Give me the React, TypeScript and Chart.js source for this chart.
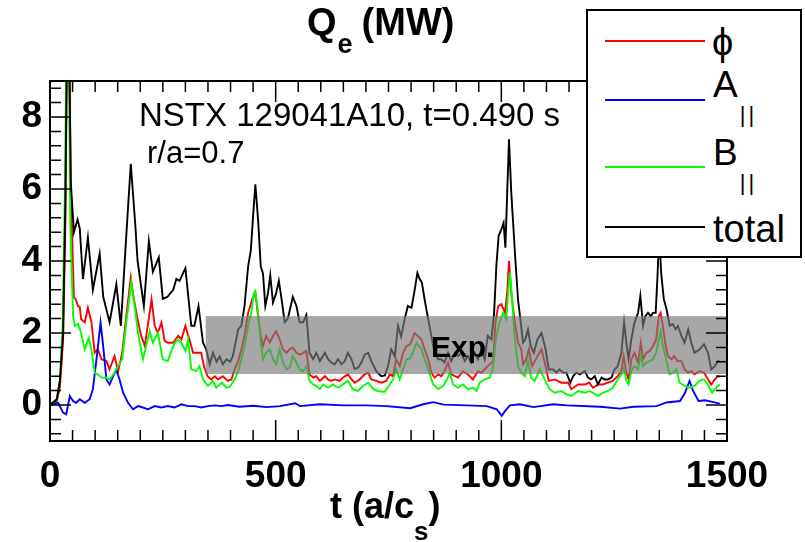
import React, { useEffect, useRef } from "react";
import { Chart, registerables } from "chart.js";

Chart.register(...registerables);

const FONT = "'Liberation Sans', Arial, Helvetica, sans-serif";
const W = 805;
const H = 542;

// axis ranges and tick labels
const xRange = [0, 1500];
const yRange = [-1, 9];
const xTickValues = [0, 500, 1000, 1500];
const yTickValues = [0, 2, 4, 6, 8];

// experimental band (t from, t to, Q low, Q high)
const expBand = [345, 1500, 0.86, 2.47];

// Q_e total  [t (a/cs), Q (MW)]
const totalSeries: [number, number][] = [
  [0, 0], [15, 0.16], [22, 0.67], [29, 2.0], [34, 5.6], [40, 13], [46, 6.2], [53, 4.8], [61, 5.15], [66, 4.9],
  [73, 3.5], [84, 4.65], [95, 3.2], [110, 4.2], [118, 3.0], [132, 2.3], [147, 3.35], [157, 2.2], [168, 4.5], [179, 6.7],
  [189, 5.0], [194, 4.0], [208, 2.75], [219, 4.55], [228, 3.7], [241, 4.1], [250, 2.95], [260, 3.0], [273, 3.2], [280, 3.5],
  [287, 3.45], [300, 3.8], [313, 2.2], [320, 2.2], [329, 2.75], [339, 1.73], [346, 1.55], [354, 1.13], [361, 1.45], [369, 1.2],
  [376, 1.35], [383, 1.13], [391, 1.27], [399, 1.2], [405, 1.35], [417, 2.1], [424, 2.2], [431, 2.75], [439, 3.85], [445, 4.3],
  [450, 5.25], [455, 6.13], [461, 5.15], [467, 3.85], [472, 3.65], [477, 2.75], [483, 3.1], [488, 3.6], [494, 2.85], [501, 3.1],
  [507, 3.45], [513, 2.95], [520, 2.3], [527, 2.4], [538, 3.0], [546, 2.75], [553, 2.3], [561, 2.3], [568, 2.5], [575, 1.45],
  [583, 1.27], [590, 1.45], [598, 1.22], [609, 1.45], [616, 1.27], [623, 1.18], [631, 1.13], [638, 1.27], [646, 1.13], [653, 1.22],
  [660, 1.45], [668, 1.27], [675, 1.0], [683, 1.04], [690, 1.18], [697, 1.4], [705, 1.45], [712, 1.22], [723, 0.94], [734, 0.8],
  [742, 0.82], [749, 1.08], [756, 1.55], [764, 1.35], [771, 2.2], [778, 1.9], [786, 2.4], [793, 2.75], [801, 2.7], [808, 3.2],
  [814, 3.67], [819, 3.5], [824, 3.4], [830, 2.93], [838, 2.38], [845, 1.92], [852, 1.45], [860, 1.27], [867, 1.27], [874, 1.18],
  [882, 1.45], [889, 1.22], [897, 1.45], [904, 1.36], [911, 1.45], [919, 1.22], [926, 1.36], [934, 1.18], [941, 1.45], [948, 1.27],
  [956, 1.55], [963, 1.27], [970, 1.92], [978, 1.82], [984, 2.56], [989, 3.86], [994, 4.7], [1000, 4.88], [1005, 5.06], [1009, 4.37],
  [1013, 5.9], [1017, 7.38], [1022, 5.9], [1027, 4.88], [1031, 4.05], [1037, 2.93], [1043, 2.29], [1048, 1.73], [1053, 1.82], [1059, 2.1],
  [1065, 1.64], [1072, 1.45], [1080, 1.82], [1089, 2.0], [1098, 1.55], [1105, 0.99], [1115, 0.99], [1122, 0.9], [1129, 0.99], [1137, 0.9],
  [1144, 0.9], [1153, 0.62], [1159, 0.8], [1166, 0.9], [1174, 0.85], [1185, 0.94], [1192, 0.76], [1199, 0.71], [1207, 0.8], [1214, 0.57],
  [1222, 0.76], [1229, 0.71], [1236, 0.71], [1244, 0.76], [1251, 0.99], [1258, 1.08], [1266, 1.45], [1272, 2.29], [1277, 1.73], [1282, 1.27],
  [1288, 1.82], [1295, 2.29], [1303, 2.56], [1308, 3.03], [1314, 2.2], [1319, 2.47], [1325, 2.56], [1331, 2.47], [1336, 2.56], [1342, 2.56],
  [1346, 3.58], [1350, 4.8], [1354, 3.68], [1360, 2.94], [1366, 2.66], [1373, 2.2], [1380, 2.25], [1386, 2.1], [1391, 2.2], [1399, 1.92],
  [1406, 1.73], [1414, 2.1], [1421, 1.73], [1428, 1.45], [1439, 1.54], [1449, 1.69], [1458, 1.45], [1465, 0.99], [1473, 1.08], [1480, 1.22],
  [1484, 1.22],
];

// Q_e from phi (electrostatic)
const phiSeries: [number, number][] = [
  [0, 0], [15, 0.1], [22, 0.5], [29, 1.8], [34, 5], [40, 13], [46, 6], [53, 3.0], [57, 2.93], [62, 2.75],
  [66, 2.72], [69, 2.38], [77, 2.3], [84, 2.7], [92, 2.29], [99, 1.45], [106, 1.55], [114, 1.27], [125, 1.22], [132, 0.99],
  [143, 1.36], [151, 0.94], [160, 1.45], [169, 2.47], [179, 3.54], [186, 2.93], [194, 2.38], [202, 1.92], [210, 1.64], [217, 2.24],
  [225, 2.93], [232, 2.2], [239, 2.0], [247, 2.29], [254, 1.78], [261, 1.73], [273, 1.73], [284, 1.92], [291, 1.82], [300, 2.2],
  [309, 1.82], [317, 1.45], [328, 1.45], [335, 1.45], [341, 1.08], [349, 0.8], [357, 0.71], [365, 0.8], [372, 0.71], [383, 0.8],
  [394, 0.67], [402, 0.71], [409, 0.99], [417, 1.22], [424, 1.55], [431, 1.92], [439, 2.56], [448, 2.93], [455, 3.12], [461, 2.47],
  [467, 1.92], [472, 1.64], [479, 1.92], [487, 1.73], [494, 1.92], [501, 2.05], [509, 1.82], [516, 1.55], [524, 1.45], [531, 1.55],
  [538, 1.6], [546, 1.45], [553, 1.4], [561, 1.45], [568, 1.5], [575, 0.85], [583, 0.76], [590, 0.8], [598, 0.67], [609, 0.8],
  [616, 0.71], [623, 0.67], [631, 0.71], [642, 0.67], [649, 0.76], [660, 0.85], [668, 0.71], [675, 0.62], [686, 0.71], [697, 0.85],
  [705, 0.9], [712, 0.71], [723, 0.67], [734, 0.62], [745, 0.67], [753, 0.85], [760, 0.8], [767, 1.27], [775, 1.08], [782, 1.45],
  [790, 1.64], [798, 1.69], [808, 2.0], [815, 1.92], [823, 1.82], [830, 1.55], [838, 1.27], [845, 0.9], [852, 0.76], [860, 0.85],
  [867, 0.8], [874, 0.94], [882, 1.18], [889, 0.85], [904, 0.76], [915, 0.94], [926, 0.85], [937, 0.71], [948, 0.94], [956, 0.9],
  [970, 1.08], [982, 1.22], [987, 2.29], [993, 2.75], [1000, 2.8], [1008, 2.56], [1013, 3.12], [1017, 4.0], [1022, 3.12], [1029, 2.38],
  [1037, 1.73], [1044, 1.55], [1048, 1.13], [1055, 1.27], [1061, 1.55], [1068, 1.08], [1078, 1.31], [1089, 1.55], [1098, 1.08], [1105, 0.67],
  [1118, 0.71], [1133, 0.62], [1148, 0.62], [1155, 0.44], [1170, 0.57], [1185, 0.57], [1195, 0.62], [1203, 0.48], [1214, 0.57], [1225, 0.57],
  [1236, 0.62], [1247, 0.67], [1258, 0.8], [1266, 0.94], [1271, 1.36], [1277, 0.9], [1282, 0.71], [1288, 1.27], [1295, 1.45], [1303, 1.18],
  [1309, 1.73], [1314, 1.27], [1321, 1.45], [1329, 1.5], [1336, 1.64], [1343, 1.82], [1349, 2.47], [1353, 2.56], [1358, 2.2], [1363, 1.73],
  [1369, 1.36], [1377, 1.27], [1383, 1.36], [1390, 1.22], [1399, 1.22], [1406, 0.99], [1414, 0.9], [1421, 0.94], [1428, 0.85], [1439, 0.94],
  [1449, 0.9], [1458, 0.71], [1465, 0.57], [1473, 0.71], [1480, 0.8], [1484, 0.78],
];

// Q_e from A_parallel
const aparSeries: [number, number][] = [
  [0, 0], [18, 0.06], [29, -0.21], [36, -0.26], [44, 0.25], [51, 0.11], [58, 0.06], [66, 0.16], [77, 0.06], [88, 0.16],
  [95, 0.44], [103, 1.27], [112, 2.29], [117, 1.73], [125, 0.71], [132, 0.57], [140, 0.8], [147, 0.99], [154, 0.71], [162, 0.34],
  [173, 0.06], [184, -0.12], [195, -0.03], [206, -0.07], [217, -0.12], [232, -0.03], [247, -0.07], [261, -0.03], [276, -0.07], [291, 0.02],
  [306, -0.03], [321, -0.03], [335, -0.07], [350, -0.03], [365, -0.01], [380, -0.03], [394, 0], [420, -0.05], [450, -0.02], [480, -0.06],
  [510, -0.03], [543, 0.05], [554, -0.03], [598, 0.02], [650, -0.01], [702, -0.01], [746, -0.03], [798, -0.09], [827, 0.02], [849, 0.08],
  [872, 0.01], [923, -0.01], [968, -0.03], [990, -0.12], [1001, -0.3], [1008, -0.17], [1019, -0.01], [1041, 0.02], [1071, -0.06], [1115, 0.02],
  [1145, -0.01], [1219, -0.05], [1263, -0.1], [1293, -0.05], [1344, -0.03], [1366, 0.07], [1396, 0.11], [1407, 0.34], [1417, 0.67], [1425, 0.39],
  [1437, 0.11], [1451, 0.13], [1470, 0.08], [1484, 0.04],
];

// Q_e from B_parallel
const bparSeries: [number, number][] = [
  [0, 0], [15, 0.15], [22, 0.7], [28, 2.2], [33, 6], [39, 13], [45, 5], [51, 2.5], [55, 2.2], [62, 2.25],
  [69, 2.0], [77, 1.55], [86, 1.87], [93, 1.45], [99, 0.9], [106, 0.85], [114, 0.76], [125, 0.76], [132, 0.71], [143, 0.9],
  [151, 1.08], [160, 1.27], [169, 2.28], [180, 3.4], [188, 2.7], [195, 2.0], [206, 1.27], [213, 1.64], [221, 2.05], [228, 1.73],
  [239, 2.0], [250, 1.27], [261, 1.22], [273, 1.64], [282, 1.82], [291, 1.73], [300, 1.5], [306, 1.82], [313, 0.99], [324, 0.94],
  [331, 1.08], [339, 0.71], [350, 0.53], [361, 0.67], [368, 0.48], [380, 0.62], [391, 0.48], [398, 0.5], [409, 0.71], [417, 0.94],
  [424, 1.27], [431, 1.64], [439, 2.2], [446, 2.56], [452, 3.12], [455, 3.17], [461, 2.56], [467, 1.73], [472, 1.27], [479, 1.45],
  [487, 1.55], [494, 1.27], [501, 1.13], [509, 1.55], [516, 1.18], [524, 0.99], [531, 1.04], [538, 1.36], [546, 1.18], [553, 0.99],
  [561, 0.94], [568, 1.08], [575, 0.67], [583, 0.57], [590, 0.53], [598, 0.44], [605, 0.57], [616, 0.48], [627, 0.57], [638, 0.48],
  [649, 0.57], [660, 0.67], [671, 0.44], [683, 0.39], [693, 0.53], [705, 0.62], [716, 0.44], [727, 0.39], [741, 0.36], [753, 0.57],
  [760, 0.71], [767, 0.99], [775, 0.71], [782, 0.99], [790, 1.27], [798, 1.3], [804, 1.45], [812, 1.73], [823, 1.55], [830, 1.27],
  [838, 0.99], [849, 0.57], [860, 0.44], [871, 0.53], [878, 0.67], [886, 0.9], [893, 0.57], [904, 0.48], [915, 0.57], [926, 0.44],
  [937, 0.48], [945, 0.39], [952, 0.62], [963, 0.71], [974, 0.76], [981, 0.99], [989, 1.92], [996, 2.29], [1004, 2.56], [1011, 2.38],
  [1015, 3.12], [1019, 3.68], [1024, 2.94], [1029, 1.92], [1037, 1.08], [1044, 0.9], [1052, 0.8], [1059, 1.27], [1066, 0.76], [1074, 0.67],
  [1085, 0.99], [1096, 0.71], [1107, 0.44], [1118, 0.34], [1133, 0.39], [1144, 0.3], [1155, 0.25], [1170, 0.39], [1185, 0.34], [1195, 0.39],
  [1203, 0.34], [1214, 0.25], [1225, 0.34], [1236, 0.39], [1247, 0.48], [1258, 0.71], [1266, 0.85], [1272, 1.04], [1277, 0.67], [1282, 0.57],
  [1288, 0.94], [1295, 1.08], [1303, 0.99], [1309, 1.4], [1314, 1.08], [1321, 1.18], [1329, 1.22], [1336, 1.27], [1343, 1.45], [1349, 1.82],
  [1353, 2.05], [1358, 1.64], [1366, 1.22], [1373, 0.85], [1380, 0.9], [1388, 0.99], [1395, 0.62], [1406, 0.53], [1417, 0.48], [1428, 0.53],
  [1439, 0.67], [1449, 0.71], [1458, 0.57], [1467, 0.34], [1476, 0.48], [1484, 0.57],
];

const toPoints = (s: [number, number][]) => s.map(([x, y]) => ({ x, y }));

const framePlugin = {
  id: "frameAndBand",
  afterDatasetsDraw(chart: any) {
    const { ctx, chartArea: a, scales } = chart;
    const xs = scales.x;
    const ys = scales.y;
    ctx.save();
    // experimental band, drawn over the curves
    const bx0 = xs.getPixelForValue(expBand[0]);
    const bx1 = xs.getPixelForValue(expBand[1]);
    const byTop = ys.getPixelForValue(expBand[3]);
    const byBot = ys.getPixelForValue(expBand[2]);
    ctx.fillStyle = "rgba(122,122,122,0.66)";
    ctx.fillRect(bx0, byTop, bx1 - bx0, byBot - byTop);

    // inward ticks on all four sides
    ctx.strokeStyle = "#000";
    ctx.lineWidth = 1.5;
    ctx.beginPath();
    for (let k = 1; k < 30; k++) {
      const v = k * 50;
      const px = xs.getPixelForValue(v);
      const len = k % 10 === 0 ? 21 : 11;
      ctx.moveTo(px, a.bottom);
      ctx.lineTo(px, a.bottom - len);
      ctx.moveTo(px, a.top);
      ctx.lineTo(px, a.top + len);
    }
    for (let k = -2; k <= 22; k++) {
      const v = k * 0.4;
      const py = ys.getPixelForValue(v);
      const len = k % 5 === 0 ? 21 : 11;
      ctx.moveTo(a.left, py);
      ctx.lineTo(a.left + len, py);
      ctx.moveTo(a.right, py);
      ctx.lineTo(a.right - len, py);
    }
    ctx.stroke();
    ctx.lineWidth = 2;
    ctx.strokeRect(a.left, a.top, a.right - a.left, a.bottom - a.top);
    ctx.restore();
  },
};

function Label(props: { x: number; base: number; size: number; weight?: number; children: React.ReactNode }) {
  const { x, base, size, weight = 400, children } = props;
  return (
    <div
      style={{
        position: "absolute",
        left: x,
        top: base - 0.8465 * size,
        fontSize: size,
        fontWeight: weight,
        lineHeight: 1,
        whiteSpace: "nowrap",
      }}
    >
      {children}
    </div>
  );
}

function Sub(props: { size: number; dy: number; ml?: number; mr?: number; ls?: number; children: React.ReactNode }) {
  return (
    <sub
      style={{
        fontSize: props.size,
        verticalAlign: "baseline",
        position: "relative",
        top: props.dy,
        marginLeft: props.ml || 0,
        marginRight: props.mr || 0,
        letterSpacing: props.ls || 0,
        lineHeight: 1,
      }}
    >
      {props.children}
    </sub>
  );
}

function LegendLine(props: { y: number; color: string }) {
  return (
    <div
      style={{
        position: "absolute",
        left: 605,
        top: props.y - 1,
        width: 100,
        height: 2,
        background: props.color,
      }}
    />
  );
}

export default function App() {
  const canvasRef = useRef<HTMLCanvasElement>(null);

  useEffect(() => {
    document.body.style.margin = "0";
    const canvas = canvasRef.current;
    if (!canvas) return;
    const tickFont = { family: FONT, size: 37, weight: "bold" as const };
    const chart = new Chart(canvas, {
      type: "line",
      data: {
        datasets: [
          { label: "total", data: toPoints(totalSeries), borderColor: "#000000" },
          { label: "B∥", data: toPoints(bparSeries), borderColor: "#00ff00" },
          { label: "A∥", data: toPoints(aparSeries), borderColor: "#0000ff" },
          { label: "ϕ", data: toPoints(phiSeries), borderColor: "#ff0000" },
        ].map((d) => ({ ...d, borderWidth: 1.9, pointRadius: 0, tension: 0, fill: false })),
      },
      options: {
        responsive: false,
        animation: false,
        devicePixelRatio: 1,
        events: [],
        layout: { padding: { top: 81, right: 78, left: 0, bottom: 0 } },
        plugins: {
          legend: { display: false },
          tooltip: { enabled: false },
          title: { display: false },
        },
        scales: {
          x: {
            type: "linear",
            min: xRange[0],
            max: xRange[1],
            afterBuildTicks: (s: any) => {
              s.ticks = xTickValues.map((v) => ({ value: v }));
            },
            afterFit: (s: any) => {
              s.height = 101;
            },
            grid: { display: false, drawTicks: false },
            border: { display: false },
            ticks: {
              color: "#000",
              font: tickFont,
              padding: 14,
              maxRotation: 0,
              autoSkip: false,
              callback: (v: any) => String(v),
            },
          },
          y: {
            type: "linear",
            min: yRange[0],
            max: yRange[1],
            afterBuildTicks: (s: any) => {
              s.ticks = yTickValues.map((v) => ({ value: v }));
            },
            afterFit: (s: any) => {
              s.width = 50;
            },
            grid: { display: false, drawTicks: false },
            border: { display: false },
            ticks: {
              color: "#000",
              font: tickFont,
              padding: 8,
              autoSkip: false,
              callback: (v: any) => String(v),
            },
          },
        },
      },
      plugins: [framePlugin],
    });
    return () => chart.destroy();
  }, []);

  return (
    <div
      style={{
        position: "relative",
        width: W,
        height: H,
        overflow: "hidden",
        fontFamily: FONT,
        color: "#000",
        background: "#fff",
      }}
    >
      <canvas ref={canvasRef} width={W} height={H} style={{ position: "absolute", left: 0, top: 0, width: W, height: H }} />

      <Label x={307} base={35} size={38} weight={700}>
        Q
        <Sub size={27} dy={18} ml={1} mr={9}>
          e
        </Sub>
        (MW)
      </Label>

      <Label x={139} base={126} size={33}>
        NSTX 129041A10, t=0.490 s
      </Label>
      <Label x={147} base={163} size={31}>
        r/a=0.7
      </Label>

      <Label x={431} base={357} size={30} weight={700}>
        Exp.
      </Label>

      <Label x={330} base={518} size={36} weight={700}>
        t (a/c
        <Sub size={26} dy={22}>
          s
        </Sub>
        )
      </Label>

      <div
        style={{
          position: "absolute",
          left: 586,
          top: 9,
          width: 216,
          height: 249,
          boxSizing: "border-box",
          border: "2px solid #000",
          background: "#fff",
        }}
      />
      <LegendLine y={41} color="#ff0000" />
      <LegendLine y={100} color="#0000ff" />
      <LegendLine y={167} color="#00ff00" />
      <LegendLine y={227} color="#000000" />
      <Label x={712} base={55} size={38}>
        ϕ
      </Label>
      <Label x={713} base={97} size={37}>
        A
        <Sub size={22} dy={25} ml={2} ls={3}>
          ||
        </Sub>
      </Label>
      <Label x={713} base={165} size={37}>
        B
        <Sub size={22} dy={25} ml={2} ls={3}>
          ||
        </Sub>
      </Label>
      <Label x={713} base={242} size={38}>
        total
      </Label>
    </div>
  );
}
